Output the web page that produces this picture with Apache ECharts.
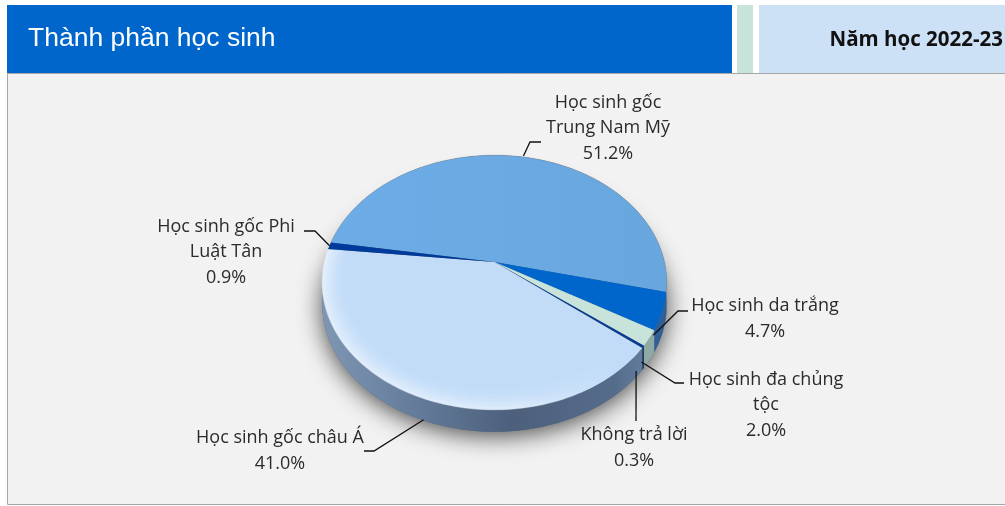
<!DOCTYPE html>
<html>
<head>
<meta charset="utf-8">
<title>Thành phần học sinh</title>
<script src="https://cdn.jsdelivr.net/npm/echarts@6/dist/echarts.min.js"></script>
<style>
  html, body { margin: 0; padding: 0; background: #fff; }
  #main { width: 1005px; height: 506px; }
</style>
</head>
<body>
<div id="main"></div>
<script>
// data, clockwise from the start angle
var titleText = "Thành phần học sinh";
var yearText = "Năm học 2022-23";
var categories = ["Học sinh gốc\nTrung Nam Mỹ", "Học sinh da trắng", "Học sinh đa chủng\ntộc", "Không trả lời", "Học sinh gốc châu Á", "Học sinh gốc Phi\nLuật Tân"];
var values = [51.2, 4.7, 2.0, 0.3, 41.0, 0.9];

var topColors = ["#6AAAE4", "#0066CC", "#C8E4DA", "#0B3C94", "#C2DCF8", "#003A9A"];
var sideTints = [null, "#2F5F96", "#8FAAA4", "#1F3A66", null, "#1F3A66"];

// label centre + leader: nudge from the slice rim point, then elbow and end
var labelLayout = [
  { x: 608, y: 128, nudge: [0, -1], elbow: [530, 142], end: [541, 142] },
  { x: 765, y: 319, nudge: [-9, 24], elbow: [678, 311], end: [688, 311] },
  { x: 766, y: 405, nudge: [-8, 24], elbow: [675, 383], end: [684, 383] },
  { x: 634, y: 448, nudge: [-7, 24], elbow: [636, 421], end: [636, 421] },
  { x: 280, y: 451, nudge: [5, 23], elbow: [374, 451], end: [364, 451] },
  { x: 226, y: 252, nudge: [0, 0], elbow: [315, 231], end: [304, 231] }
];

// tilted disc: apex sits above the ellipse centre because of the perspective
var pie = { cx: 494.5, cy: 262, a: 124, b: 170, k: -0.161, depth: 22, start: 279.3 };

function project(r, deg) {
  var t = deg * Math.PI / 180;
  var x = r * Math.sin(t);
  var y = -r * Math.cos(t);
  var w = 1 + pie.k * y;
  return [pie.cx + pie.b * x / w, pie.cy + pie.a * y / w];
}

function arc(r, a0, a1, dy) {
  var pts = [];
  var n = Math.max(2, Math.ceil(Math.abs(a1 - a0) / 1.5));
  for (var i = 0; i <= n; i++) {
    var p = project(r, a0 + (a1 - a0) * i / n);
    pts.push([p[0], p[1] + (dy || 0)]);
  }
  return pts;
}

var total = values.reduce(function (s, v) { return s + v; }, 0);
function sliceAngles(idx) {
  var before = 0;
  for (var i = 0; i < idx; i++) before += values[i];
  var a0 = pie.start + before / total * 360;
  return [a0, a0 + values[idx] / total * 360];
}

function xGradient(stops) {
  return new echarts.graphic.LinearGradient(322, 0, 667, 0, stops, true);
}

var sideFill = [
  { offset: 0, color: "#7F97B3" },
  { offset: 0.25, color: "#667E9C" },
  { offset: 0.55, color: "#4C607C" },
  { offset: 0.85, color: "#566C8B" },
  { offset: 1, color: "#6F8AAB" }
];

function renderSide(params, api) {
  var idx = params.dataIndex;
  var ang = sliceAngles(idx);
  var top = arc(1, ang[0], ang[1], 0);
  var bottom = arc(1, ang[0], ang[1], pie.depth).reverse();
  var children = [];
  if (idx === 0) {
    // soft shadow under the whole disc
    children.push({
      type: "polygon",
      shape: { points: arc(1, 0, 360, pie.depth) },
      style: { fill: "#55687F", shadowBlur: 24, shadowColor: "rgba(0,0,0,0.7)", shadowOffsetY: 4 }
    });
  }
  children.push({
    type: "polygon",
    shape: { points: top.concat(bottom) },
    style: { fill: sideTints[idx] || xGradient(sideFill) }
  });
  return { type: "group", children: children };
}

function renderTop(params, api) {
  var idx = params.dataIndex;
  var ang = sliceAngles(idx);
  var centre = project(0, 0);
  var fill = topColors[idx];
  if (idx === 0) {
    fill = xGradient([{ offset: 0, color: "#6DADE7" }, { offset: 1, color: "#68A6DE" }]);
  }
  var children = [{
    type: "polygon",
    shape: { points: [centre].concat(arc(1, ang[0], ang[1], 0)) },
    style: { fill: fill }
  }];
  if (idx === 0) {
    children.push({
      type: "polyline",
      shape: { points: arc(1, ang[0], ang[1], 0) },
      style: { fill: null, stroke: "rgba(130,135,140,0.4)", lineWidth: 1 }
    });
  }
  if (idx === 4) {
    // pale rim on the near edge of the big light slice
    var steps = 11;
    for (var i = 0; i < steps; i++) {
      var alpha = 0.5 * Math.pow(1 - i / steps, 1.8);
      children.push({
        type: "polyline",
        shape: { points: arc(0.996 - i * 0.012, ang[0] + 0.3, ang[1] - 0.3, 0) },
        style: {
          fill: null,
          lineWidth: 2.5,
          stroke: xGradient([
            { offset: 0, color: "rgba(255,255,255," + alpha + ")" },
            { offset: 0.55, color: "rgba(255,255,255," + alpha * 0.8 + ")" },
            { offset: 0.85, color: "rgba(255,255,255,0)" },
            { offset: 1, color: "rgba(255,255,255,0)" }
          ])
        }
      });
    }
  }
  return { type: "group", children: children };
}

function renderLabel(params, api) {
  var idx = params.dataIndex;
  var ang = sliceAngles(idx);
  var lay = labelLayout[idx];
  var rim = project(1, (ang[0] + ang[1]) / 2);
  var from = [rim[0] + lay.nudge[0], rim[1] + lay.nudge[1]];
  return {
    type: "group",
    children: [{
      type: "polyline",
      shape: { points: [from, lay.elbow, lay.end] },
      style: { fill: null, stroke: "#111", lineWidth: 1.3 }
    }, {
      type: "text",
      x: lay.x,
      y: lay.y,
      style: {
        text: categories[idx] + "\n" + api.value(0).toFixed(1) + "%",
        fill: "#2b2b2b",
        font: "18px 'Open Sans'",
        lineHeight: 25.5,
        align: "center",
        verticalAlign: "middle"
      }
    }]
  };
}

var myChart = echarts.init(document.getElementById("main"));

var option = {
  animation: false,
  backgroundColor: "#fff",
  title: {
    text: titleText,
    left: 23,
    top: 20,
    textStyle: { color: "#fff", fontFamily: "Liberation Sans", fontSize: 26.5, fontWeight: "normal" }
  },
  graphic: [
    { type: "rect", shape: { x: 7.5, y: 73.5, width: 1010, height: 431 }, style: { fill: "#F2F2F2", stroke: "#A6A6A6", lineWidth: 1 } },
    { type: "rect", shape: { x: 7, y: 5, width: 725, height: 68 }, style: { fill: "#0066CC" } },
    { type: "rect", shape: { x: 737, y: 5, width: 16, height: 68 }, style: { fill: "#C8E4DA" } },
    { type: "rect", shape: { x: 759, y: 5, width: 246, height: 68 }, style: { fill: "#CCE0F6" } },
    {
      type: "text",
      x: 1003,
      y: 40,
      style: { text: yearText, fill: "#111", font: "bold 20.5px 'Open Sans'", align: "right", verticalAlign: "middle" }
    }
  ],
  series: [
    { type: "custom", name: "side", coordinateSystem: "none", silent: true, data: values, renderItem: renderSide, z: 2 },
    { type: "custom", name: "top", coordinateSystem: "none", silent: true, data: values, renderItem: renderTop, z: 3 },
    { type: "custom", name: "label", coordinateSystem: "none", silent: true, data: values, renderItem: renderLabel, z: 4 }
  ]
};

myChart.setOption(option);
</script>
</body>
</html>
